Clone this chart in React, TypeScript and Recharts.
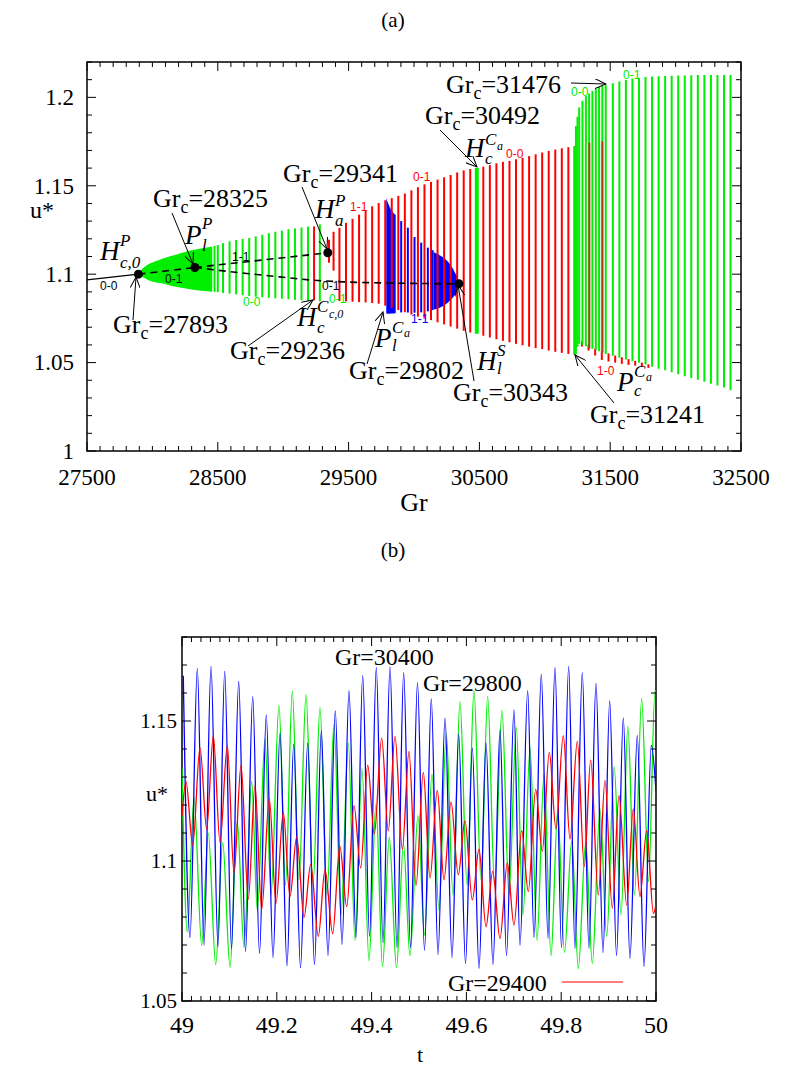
import React from 'react';
import { ComposedChart, XAxis, YAxis, Scatter, ErrorBar, Area, Line, ReferenceArea } from 'recharts';

const SERIF = '"Liberation Serif", "DejaVu Serif", serif';
const SANS = '"Liberation Sans", Arial, sans-serif';
const RED = '#ff0000';
const GREEN = '#00ee00';
const BLUE = '#0000ff';
const BROWN = '#b0401a';

// ---------- panel (a) ----------
const grMajor = [27500, 28500, 29500, 30500, 31500, 32500];
const grMinor = Array.from({ length: 51 }, (_, i) => 27500 + i * 100);
const uMajorA = [1, 1.05, 1.1, 1.15, 1.2];
const uMinorA = Array.from({ length: 23 }, (_, i) => Number((1 + i * 0.01).toFixed(2)));

// steady branch (solid) and unstable branches (dashed)
const steadyGr = [27500, 27893];
const steadyU = [1.0968, 1.1];
const unst01Gr = [27893, 28325];
const unst01U = [1.1, 1.1038];
const unst11Gr = [28325, 29341];
const unst11U = [1.1038, 1.1121];
const unstLowGr = [28325, 28719, 28973, 29225, 29482, 29800, 30118, 30343];
const unstLowU = [1.1038, 1.1004, 1.0985, 1.0966, 1.0956, 1.095, 1.0947, 1.0946];

// critical points
const critGr = [27893, 28325, 29341, 30343];
const critU = [1.1, 1.1038, 1.1121, 1.0946];

// dense green band after H_c,0^P
const gFillGr = [27893, 27910, 27940, 27980, 28030, 28083, 28150, 28210, 28300, 28380, 28450];
const gFillLo = [1.1, 1.099, 1.0978, 1.0963, 1.0953, 1.0947, 1.0933, 1.0924, 1.0913, 1.0906, 1.0902];
const gFillHi = [1.1, 1.102, 1.104, 1.106, 1.1075, 1.1089, 1.1104, 1.1117, 1.1135, 1.1147, 1.1155];

// green oscillation ranges (0-0)
const g00Gr = [28450, 28475, 28500, 28540, 28590, 28640, 28690, 28740, 28790, 28840, 28890, 28940, 28990, 29040, 29090, 29140, 29190, 29280];
const g00Lo = [1.0902, 1.09, 1.0898, 1.0894, 1.089, 1.0886, 1.0881, 1.0877, 1.0873, 1.0869, 1.0866, 1.0863, 1.0861, 1.0858, 1.0855, 1.0852, 1.085, 1.0847];
const g00Hi = [1.1155, 1.116, 1.1165, 1.1175, 1.1186, 1.1193, 1.1199, 1.1205, 1.1214, 1.1223, 1.1232, 1.124, 1.1246, 1.1254, 1.1259, 1.1264, 1.1269, 1.1282];

// red oscillation ranges (0-1 / 0-0)
const redGr = [29236, 29350, 29385, 29430, 29480, 29530, 29580, 29630, 29680, 29730, 29780, 29830, 29880, 29930, 29980, 30030, 30080, 30130, 30180, 30230, 30280, 30330, 30380, 30430, 30530, 30580, 30630, 30680, 30730, 30780, 30830, 30880, 30930, 30980, 31030, 31080, 31130, 31180, 31230];
const redLo = [1.0852, 1.1065, 1.102, 1.0848, 1.0846, 1.0844, 1.0842, 1.084, 1.0837, 1.0833, 1.0822, 1.081, 1.0797, 1.0785, 1.0772, 1.076, 1.0749, 1.074, 1.0728, 1.0716, 1.0704, 1.0692, 1.068, 1.067, 1.0652, 1.0642, 1.0632, 1.0623, 1.0615, 1.0606, 1.0598, 1.059, 1.0582, 1.0576, 1.0568, 1.0561, 1.0555, 1.0549, 1.0545];
const redHi = [1.127, 1.1195, 1.124, 1.1262, 1.129, 1.1313, 1.1337, 1.1361, 1.1384, 1.1402, 1.1418, 1.143, 1.1443, 1.1456, 1.1474, 1.1492, 1.1508, 1.1522, 1.1535, 1.1548, 1.1561, 1.1575, 1.1587, 1.1595, 1.1608, 1.1617, 1.1627, 1.1635, 1.1641, 1.165, 1.1658, 1.1668, 1.1678, 1.1688, 1.1697, 1.1705, 1.1712, 1.1718, 1.1723];

// blue (1-1) ranges
const bFill1Gr = [29788, 29800, 29815, 29830, 29845, 29860];
const bFill1Lo = [1.0777, 1.0776, 1.0776, 1.0777, 1.0778, 1.0779];
const bFill1Hi = [1.143, 1.1405, 1.1378, 1.1358, 1.1345, 1.1335];
const blueGr = [29902, 29953, 30004, 30055, 30106, 30142];
const blueLo = [1.0784, 1.0783, 1.0782, 1.0784, 1.079, 1.0797];
const blueHi = [1.13, 1.1263, 1.121, 1.1178, 1.115, 1.1136];
const bFill2Gr = [30150, 30175, 30200, 30230, 30260, 30290, 30315, 30335, 30343];
const bFill2Lo = [1.08, 1.0805, 1.0812, 1.0825, 1.084, 1.0862, 1.0885, 1.0915, 1.0946];
const bFill2Hi = [1.1125, 1.1115, 1.1105, 1.109, 1.107, 1.104, 1.1005, 1.0975, 1.0946];

// green at H_c^Ca
const gHcGr = [30480];
const gHcLo = [1.0663];
const gHcHi = [1.16];

// green after P_c^Ca
const gAftGr = [31225, 31238, 31250, 31263, 31288, 31314, 31339, 31364, 31390, 31415, 31440, 31466, 31520, 31570, 31620, 31670, 31720, 31770, 31820, 31870, 31920, 31970, 32020, 32070, 32120, 32170, 32220, 32270, 32320, 32370, 32420];
const gAftLo = [1.0545, 1.0548, 1.059, 1.0606, 1.06, 1.0592, 1.0585, 1.0578, 1.0571, 1.0564, 1.0556, 1.0549, 1.0538, 1.0527, 1.0518, 1.0508, 1.0499, 1.0489, 1.0477, 1.0465, 1.0456, 1.0446, 1.0434, 1.0423, 1.0413, 1.0403, 1.0392, 1.0381, 1.037, 1.0359, 1.0344];
const gAftHi = [1.1723, 1.1837, 1.189, 1.1943, 1.198, 1.2007, 1.2022, 1.2036, 1.2048, 1.2058, 1.2064, 1.207, 1.208, 1.209, 1.2098, 1.2106, 1.2111, 1.2115, 1.2118, 1.212, 1.2121, 1.2122, 1.2123, 1.2124, 1.2125, 1.2126, 1.2126, 1.2127, 1.2127, 1.2127, 1.2127];

// red 1-0 segments below the green
const r10Gr = [31284, 31334, 31385, 31436, 31487, 31538, 31589, 31640, 31691, 31742, 31792];
const r10Lo = [1.0591, 1.0568, 1.054, 1.0515, 1.0506, 1.05, 1.0493, 1.0487, 1.0483, 1.0477, 1.047];
const r10Hi = [1.062, 1.06, 1.058, 1.0565, 1.0552, 1.054, 1.053, 1.052, 1.051, 1.05, 1.049];

// overlapping (brownish) lines
const brownGr = [31340, 31440];
const brownLo = [1.058, 1.0556];
const brownHi = [1.1744, 1.1752];

// ---------- panel (b) ----------
const tMajor = [49, 49.2, 49.4, 49.6, 49.8, 50];
const tMinor = Array.from({ length: 51 }, (_, i) => Number((49 + i * 0.02).toFixed(2)));
const uMajorB = [1.05, 1.1, 1.15];
const uMinorB = Array.from({ length: 14 }, (_, i) => Number((1.05 + i * 0.01).toFixed(2)));

const blueT = [49.0027, 49.0169, 49.0323, 49.0464, 49.0612, 49.0759, 49.0901, 49.1044, 49.1196, 49.134,
  49.1492, 49.1635, 49.1778, 49.192, 49.2068, 49.2215, 49.2357, 49.25, 49.2652, 49.2795,
  49.2939, 49.308, 49.3234, 49.3376, 49.3523, 49.3671, 49.3812, 49.3956, 49.4099, 49.4241,
  49.4388, 49.4536, 49.4677, 49.4821, 49.4968, 49.5116, 49.5259, 49.5401, 49.5549, 49.5696,
  49.5838, 49.5981, 49.6125, 49.6266, 49.6414, 49.6561, 49.6709, 49.6846, 49.7004, 49.7131,
  49.7293, 49.7426, 49.758, 49.7722, 49.7869, 49.8006, 49.8158, 49.8291, 49.8445, 49.8586,
  49.8734, 49.8882, 49.9023, 49.9167, 49.931, 49.9451, 49.9605, 49.9747, 49.9901, 50.0];
const blueU = [1.1662, 1.0727, 1.1688, 1.0699, 1.1695, 1.0695, 1.1677, 1.0688, 1.1641, 1.0677,
  1.1587, 1.067, 1.1522, 1.0655, 1.1457, 1.0626, 1.1417, 1.0619, 1.1421, 1.063,
  1.1464, 1.0662, 1.1536, 1.0702, 1.1608, 1.0727, 1.1662, 1.0731, 1.1691, 1.0709,
  1.1693, 1.0691, 1.1673, 1.0691, 1.1637, 1.0681, 1.1579, 1.0666, 1.1511, 1.0655,
  1.1453, 1.0634, 1.1403, 1.0616, 1.1421, 1.063, 1.1468, 1.0662, 1.154, 1.0699,
  1.1608, 1.0727, 1.1666, 1.0724, 1.1691, 1.0691, 1.1695, 1.0688, 1.1673, 1.0688,
  1.1634, 1.0673, 1.1572, 1.0662, 1.1511, 1.0652, 1.1449, 1.0623, 1.1413, 1.125];

const greenT = [49.0, 49.0112, 49.0253, 49.0416, 49.0555, 49.0711, 49.0859, 49.1013, 49.1167, 49.1308,
  49.147, 49.1589, 49.1751, 49.1878, 49.2046, 49.2184, 49.2327, 49.2468, 49.2616, 49.2764,
  49.2911, 49.3059, 49.3207, 49.3354, 49.3508, 49.365, 49.3797, 49.3945, 49.4093, 49.423,
  49.4373, 49.4525, 49.4673, 49.481, 49.4979, 49.5116, 49.5274, 49.5422, 49.5576, 49.5717,
  49.5865, 49.6013, 49.616, 49.6308, 49.6449, 49.6593, 49.6751, 49.6899, 49.7053, 49.7194,
  49.7342, 49.7489, 49.7637, 49.7785, 49.7926, 49.807, 49.8222, 49.8361, 49.8517, 49.8656,
  49.8819, 49.896, 49.9118, 49.9262, 49.9407, 49.9546, 49.9698, 49.9842, 49.9979, 50.0];
const greenU = [1.133, 1.0747, 1.1225, 1.0699, 1.1099, 1.063, 1.1066, 1.062, 1.114, 1.0692,
  1.1284, 1.0825, 1.1436, 1.0879, 1.1557, 1.0915, 1.1607, 1.0933, 1.1594, 1.0915,
  1.1549, 1.0879, 1.1489, 1.0807, 1.1421, 1.0717, 1.133, 1.0644, 1.1204, 1.0623,
  1.1084, 1.0619, 1.106, 1.0662, 1.1162, 1.0735, 1.1309, 1.0825, 1.1455, 1.0879,
  1.1569, 1.0915, 1.1608, 1.0933, 1.1588, 1.0915, 1.1538, 1.0879, 1.1476, 1.0807,
  1.1404, 1.0717, 1.1309, 1.0662, 1.118, 1.0673, 1.1071, 1.0616, 1.1066, 1.0634,
  1.1186, 1.0731, 1.1336, 1.0807, 1.1481, 1.0879, 1.158, 1.0926, 1.1607, 1.1605];

const redT = [49.0, 49.0084, 49.0226, 49.038, 49.0521, 49.066, 49.0802, 49.0956, 49.1097, 49.1245,
  49.1399, 49.154, 49.1681, 49.1842, 49.1983, 49.2137, 49.2278, 49.242, 49.2574, 49.2715,
  49.2876, 49.3017, 49.3179, 49.3329, 49.3475, 49.3629, 49.377, 49.3918, 49.4057, 49.4213,
  49.4352, 49.4494, 49.4648, 49.4789, 49.4937, 49.5091, 49.5232, 49.5386, 49.5527, 49.5675,
  49.5829, 49.597, 49.6124, 49.6266, 49.6414, 49.6555, 49.6709, 49.6863, 49.7004, 49.7167,
  49.7306, 49.7462, 49.7601, 49.7749, 49.789, 49.8044, 49.8186, 49.834, 49.8487, 49.8622,
  49.8783, 49.8924, 49.9078, 49.9219, 49.9382, 49.9521, 49.9662, 49.9804, 49.9945, 50.0];
const redU = [1.1161, 1.1284, 1.1056, 1.1405, 1.1114, 1.1448, 1.1066, 1.1412, 1.0957, 1.1342,
  1.0864, 1.127, 1.0827, 1.1222, 1.0849, 1.1174, 1.0873, 1.1087, 1.0799, 1.0987,
  1.0731, 1.0969, 1.0741, 1.1053, 1.0837, 1.1198, 1.0975, 1.1342, 1.1096, 1.1439,
  1.1108, 1.1445, 1.1042, 1.1391, 1.0912, 1.1316, 1.0939, 1.1252, 1.0933, 1.121,
  1.0951, 1.1144, 1.0861, 1.1042, 1.0765, 1.0963, 1.0723, 1.0993, 1.0771, 1.1108,
  1.0891, 1.1256, 1.1035, 1.1388, 1.1114, 1.1448, 1.1078, 1.1427, 1.0981, 1.136,
  1.0879, 1.1288, 1.0831, 1.1234, 1.0843, 1.1186, 1.0873, 1.1108, 1.0813, 1.0843];

// ---------- helpers ----------
const pts = (xs: number[], ys: number[], key = 'g') => xs.map((x, i) => ({ [key]: x, u: ys[i] }));
const bars = (gr: number[], lo: number[], hi: number[]) =>
  gr.map((g, i) => ({ g, mid: (lo[i] + hi[i]) / 2, half: (hi[i] - lo[i]) / 2 }));
const band = (gr: number[], lo: number[], hi: number[]) => gr.map((g, i) => ({ g, range: [lo[i], hi[i]] }));
const hidden = () => <g />;

const isMajor = (majors: number[], v: number) => majors.some((m) => Math.abs(m - v) < 1e-6);

function makeXTick(majors: number[], span: number, fontSize: number, gap: number) {
  return (props: any) => {
    const { x, y, payload } = props;
    const v = payload.value;
    const major = isMajor(majors, v);
    const len = major ? 9 : 5;
    return (
      <g>
        <line x1={x} y1={y} x2={x} y2={y - len} stroke="#000" strokeWidth={1} />
        <line x1={x} y1={y - span} x2={x} y2={y - span + len} stroke="#000" strokeWidth={1} />
        {major && (
          <text x={x} y={y + gap} textAnchor="middle" fontFamily={SERIF} fontSize={fontSize} fill="#000">
            {String(v)}
          </text>
        )}
      </g>
    );
  };
}

function makeYTick(majors: number[], span: number, fontSize: number, gap: number) {
  return (props: any) => {
    const { x, y, payload } = props;
    const v = payload.value;
    const major = isMajor(majors, v);
    const len = major ? 9 : 5;
    return (
      <g>
        <line x1={x} y1={y} x2={x + len} y2={y} stroke="#000" strokeWidth={1} />
        <line x1={x + span} y1={y} x2={x + span - len} y2={y} stroke="#000" strokeWidth={1} />
        {major && (
          <text x={x - gap} y={y + fontSize * 0.34} textAnchor="end" fontFamily={SERIF} fontSize={fontSize} fill="#000">
            {String(v)}
          </text>
        )}
      </g>
    );
  };
}

function PanelA() {
  return (
    <ComposedChart width={785} height={520} margin={{ top: 62, right: 44, bottom: 9, left: 0 }}>
      <XAxis dataKey="g" type="number" domain={[27500, 32500]} allowDataOverflow ticks={grMinor} interval={0}
        tickLine={false} tickSize={0} tickMargin={0} axisLine={false} height={60}
        tick={makeXTick(grMajor, 389, 23, 34)} />
      <YAxis type="number" domain={[1, 1.22]} allowDataOverflow ticks={uMinorA} interval={0}
        tickLine={false} tickSize={0} tickMargin={0} axisLine={false} width={87}
        tick={makeYTick(uMajorA, 654, 23, 13)} />

      <Area data={band(gFillGr, gFillLo, gFillHi)} dataKey="range" type="monotone" stroke="none" fill={GREEN} fillOpacity={1} isAnimationActive={false} />
      <Scatter data={bars(g00Gr, g00Lo, g00Hi)} dataKey="mid" shape={hidden} isAnimationActive={false}>
        <ErrorBar dataKey="half" direction="y" width={0} stroke={GREEN} strokeWidth={2} />
      </Scatter>
      <Scatter data={bars(redGr, redLo, redHi)} dataKey="mid" shape={hidden} isAnimationActive={false}>
        <ErrorBar dataKey="half" direction="y" width={0} stroke={RED} strokeWidth={2} />
      </Scatter>
      <Area data={band(bFill1Gr, bFill1Lo, bFill1Hi)} dataKey="range" type="monotone" stroke="none" fill={BLUE} fillOpacity={1} isAnimationActive={false} />
      <Scatter data={bars(blueGr, blueLo, blueHi)} dataKey="mid" shape={hidden} isAnimationActive={false}>
        <ErrorBar dataKey="half" direction="y" width={0} stroke={BLUE} strokeWidth={2} />
      </Scatter>
      <Area data={band(bFill2Gr, bFill2Lo, bFill2Hi)} dataKey="range" type="monotone" stroke="none" fill={BLUE} fillOpacity={1} isAnimationActive={false} />
      <Scatter data={bars(gHcGr, gHcLo, gHcHi)} dataKey="mid" shape={hidden} isAnimationActive={false}>
        <ErrorBar dataKey="half" direction="y" width={0} stroke={GREEN} strokeWidth={4} />
      </Scatter>
      <Scatter data={bars(r10Gr, r10Lo, r10Hi)} dataKey="mid" shape={hidden} isAnimationActive={false}>
        <ErrorBar dataKey="half" direction="y" width={0} stroke={RED} strokeWidth={2} />
      </Scatter>
      <Scatter data={bars(gAftGr, gAftLo, gAftHi)} dataKey="mid" shape={hidden} isAnimationActive={false}>
        <ErrorBar dataKey="half" direction="y" width={0} stroke={GREEN} strokeWidth={2} />
      </Scatter>
      <Scatter data={bars(brownGr, brownLo, brownHi)} dataKey="mid" shape={hidden} isAnimationActive={false}>
        <ErrorBar dataKey="half" direction="y" width={0} stroke={BROWN} strokeWidth={2} />
      </Scatter>

      <Line data={pts(steadyGr, steadyU)} dataKey="u" stroke="#000" strokeWidth={1.3} dot={false} isAnimationActive={false} />
      <Line data={pts(unst01Gr, unst01U)} dataKey="u" stroke="#000" strokeWidth={1.6} strokeDasharray="7 5" dot={false} isAnimationActive={false} />
      <Line data={pts(unst11Gr, unst11U)} dataKey="u" stroke="#000" strokeWidth={1.6} strokeDasharray="7 5" dot={false} isAnimationActive={false} />
      <Line data={pts(unstLowGr, unstLowU)} dataKey="u" type="monotone" stroke="#000" strokeWidth={1.6} strokeDasharray="7 5" dot={false} isAnimationActive={false} />
      <Scatter data={pts(critGr, critU)} dataKey="u" fill="#000" isAnimationActive={false} />

      <ReferenceArea x1={27500} x2={32500} y1={1} y2={1.22} fill="none" stroke="#000" strokeWidth={1.5} />
    </ComposedChart>
  );
}

function PanelB() {
  return (
    <ComposedChart width={785} height={546} margin={{ top: 117, right: 129, bottom: 15, left: 0 }}>
      <XAxis dataKey="t" type="number" domain={[49, 50]} allowDataOverflow ticks={tMinor} interval={0}
        tickLine={false} tickSize={0} tickMargin={0} axisLine={false} height={50}
        tick={makeXTick(tMajor, 364, 24, 32)} />
      <YAxis type="number" domain={[1.05, 1.18]} allowDataOverflow ticks={uMinorB} interval={0}
        tickLine={false} tickSize={0} tickMargin={0} axisLine={false} width={182}
        tick={makeYTick(uMajorB, 474, 21, 5)} />
      <Line data={pts(greenT, greenU, 't')} dataKey="u" type="monotone" stroke={GREEN} strokeWidth={1.3} dot={false} isAnimationActive={false} />
      <Line data={pts(blueT, blueU, 't')} dataKey="u" type="monotone" stroke={BLUE} strokeWidth={1.3} dot={false} isAnimationActive={false} />
      <Line data={pts(redT, redU, 't')} dataKey="u" type="monotone" stroke={RED} strokeWidth={1.3} dot={false} isAnimationActive={false} />
      <ReferenceArea x1={49} x2={50} y1={1.05} y2={1.18} fill="none" stroke="#000" strokeWidth={1.5} />
    </ComposedChart>
  );
}

function GrC({ x, y, v }: { x: number; y: number; v: string }) {
  return (
    <text x={x} y={y} fontFamily={SERIF} fontSize={26} fill="#000">
      Gr<tspan dy={6} fontSize={18}>c</tspan><tspan dy={-6}>={v}</tspan>
    </text>
  );
}

// italic symbol with super- and subscripts, as one text element
type Piece = [string, number, number, number];
function Sym({ parts }: { parts: Piece[] }) {
  return (
    <text fontFamily={SERIF} fontStyle="italic" fill="#000">
      {parts.map(([s, x, y, size], i) => (
        <tspan key={i} x={x} y={y} fontSize={size}>{s}</tspan>
      ))}
    </text>
  );
}

const tags = [
  { s: '0-1', c: GREEN, x: 623, y: 79 },
  { s: '0-0', c: GREEN, x: 571, y: 96 },
  { s: '0-0', c: RED, x: 506, y: 158 },
  { s: '0-1', c: RED, x: 413, y: 181 },
  { s: '1-1', c: RED, x: 350, y: 211 },
  { s: '1-1', c: '#000', x: 232, y: 261 },
  { s: '0-1', c: '#000', x: 165, y: 283 },
  { s: '0-0', c: '#000', x: 100, y: 290 },
  { s: '0-0', c: GREEN, x: 243, y: 306 },
  { s: '0-1', c: '#000', x: 322, y: 290 },
  { s: '0-1', c: GREEN, x: 329, y: 303 },
  { s: '1-1', c: BLUE, x: 411, y: 323 },
  { s: '1-0', c: RED, x: 597, y: 375 },
];

const arrows = [
  [571, 83, 606, 84],
  [440, 130, 477, 167],
  [302, 187, 327, 249],
  [172, 213, 193, 264],
  [133, 320, 136, 277],
  [248, 346, 313, 300],
  [367, 364, 383, 312],
  [474, 381, 458, 285],
  [614, 403, 575, 355],
];

function Overlay() {
  return (
    <svg width={785} height={1066} style={{ position: 'absolute', left: 0, top: 0, pointerEvents: 'none' }}>
      <defs>
        <marker id="arr" markerWidth={12} markerHeight={10} refX={11} refY={5} orient="auto" markerUnits="userSpaceOnUse">
          <path d="M0,0 L11,5 L0,10" fill="none" stroke="#000" strokeWidth={1} />
        </marker>
      </defs>
      <text x={393} y={27} textAnchor="middle" fontFamily={SERIF} fontSize={21}>(a)</text>
      <text x={42} y={218} textAnchor="middle" fontFamily={SERIF} fontSize={24}>u*</text>
      <text x={414} y={511} textAnchor="middle" fontFamily={SERIF} fontSize={26}>Gr</text>

      {arrows.map((a, i) => (
        <line key={i} x1={a[0]} y1={a[1]} x2={a[2]} y2={a[3]} stroke="#000" strokeWidth={1} markerEnd="url(#arr)" />
      ))}
      {tags.map((t, i) => (
        <text key={i} x={t.x} y={t.y} fontFamily={SANS} fontSize={12} fill={t.c}>{t.s}</text>
      ))}

      <GrC x={446} y={93} v="31476" />
      <GrC x={425} y={124} v="30492" />
      <GrC x={283} y={182} v="29341" />
      <GrC x={153} y={207} v="28325" />
      <GrC x={113} y={333} v="27893" />
      <GrC x={230} y={359} v="29236" />
      <GrC x={349} y={379} v="29802" />
      <GrC x={453} y={401} v="30343" />
      <GrC x={590} y={423} v="31241" />

      <Sym parts={[['H', 100, 260, 27], ['P', 120, 246, 17], ['c,0', 120, 268, 17]]} />
      <Sym parts={[['P', 185, 244, 27], ['P', 202, 229, 17], ['l', 202, 251, 17]]} />
      <Sym parts={[['H', 315, 218, 27], ['P', 335, 206, 17], ['a', 335, 226, 17]]} />
      <Sym parts={[['H', 465, 157, 27], ['C', 485, 145, 17], ['a', 497, 150, 12], ['c', 485, 164, 17]]} />
      <Sym parts={[['H', 297, 326, 27], ['C', 317, 312, 17], ['c,0', 329, 318, 12], ['c', 317, 333, 17]]} />
      <Sym parts={[['P', 375, 347, 27], ['C', 392, 333, 17], ['a', 404, 337, 12], ['l', 392, 351, 17]]} />
      <Sym parts={[['H', 477, 370, 27], ['S', 497, 356, 17], ['l', 497, 374, 17]]} />
      <Sym parts={[['P', 617, 391, 27], ['C', 634, 377, 17], ['a', 646, 381, 12], ['c', 634, 396, 17]]} />

      <text x={393} y={557} textAnchor="middle" fontFamily={SERIF} fontSize={21}>(b)</text>
      <text x={157} y={801} textAnchor="middle" fontFamily={SERIF} fontSize={22}>u*</text>
      <text x={420} y={1062} textAnchor="middle" fontFamily={SERIF} fontSize={22}>t</text>
      <text x={335} y={665} fontFamily={SERIF} fontSize={24}>Gr=30400</text>
      <text x={423} y={691} fontFamily={SERIF} fontSize={24}>Gr=29800</text>
      <text x={448} y={991} fontFamily={SERIF} fontSize={24}>Gr=29400</text>
      <line x1={562} y1={982} x2={623} y2={982} stroke={RED} strokeWidth={1.2} />
    </svg>
  );
}

export default function App() {
  return (
    <div style={{ position: 'absolute', left: 0, top: 0, width: 785, height: 1066, background: '#fff' }}>
      <div style={{ position: 'absolute', left: 0, top: 0 }}>
        <PanelA />
      </div>
      <div style={{ position: 'absolute', left: 0, top: 520 }}>
        <PanelB />
      </div>
      <Overlay />
    </div>
  );
}
